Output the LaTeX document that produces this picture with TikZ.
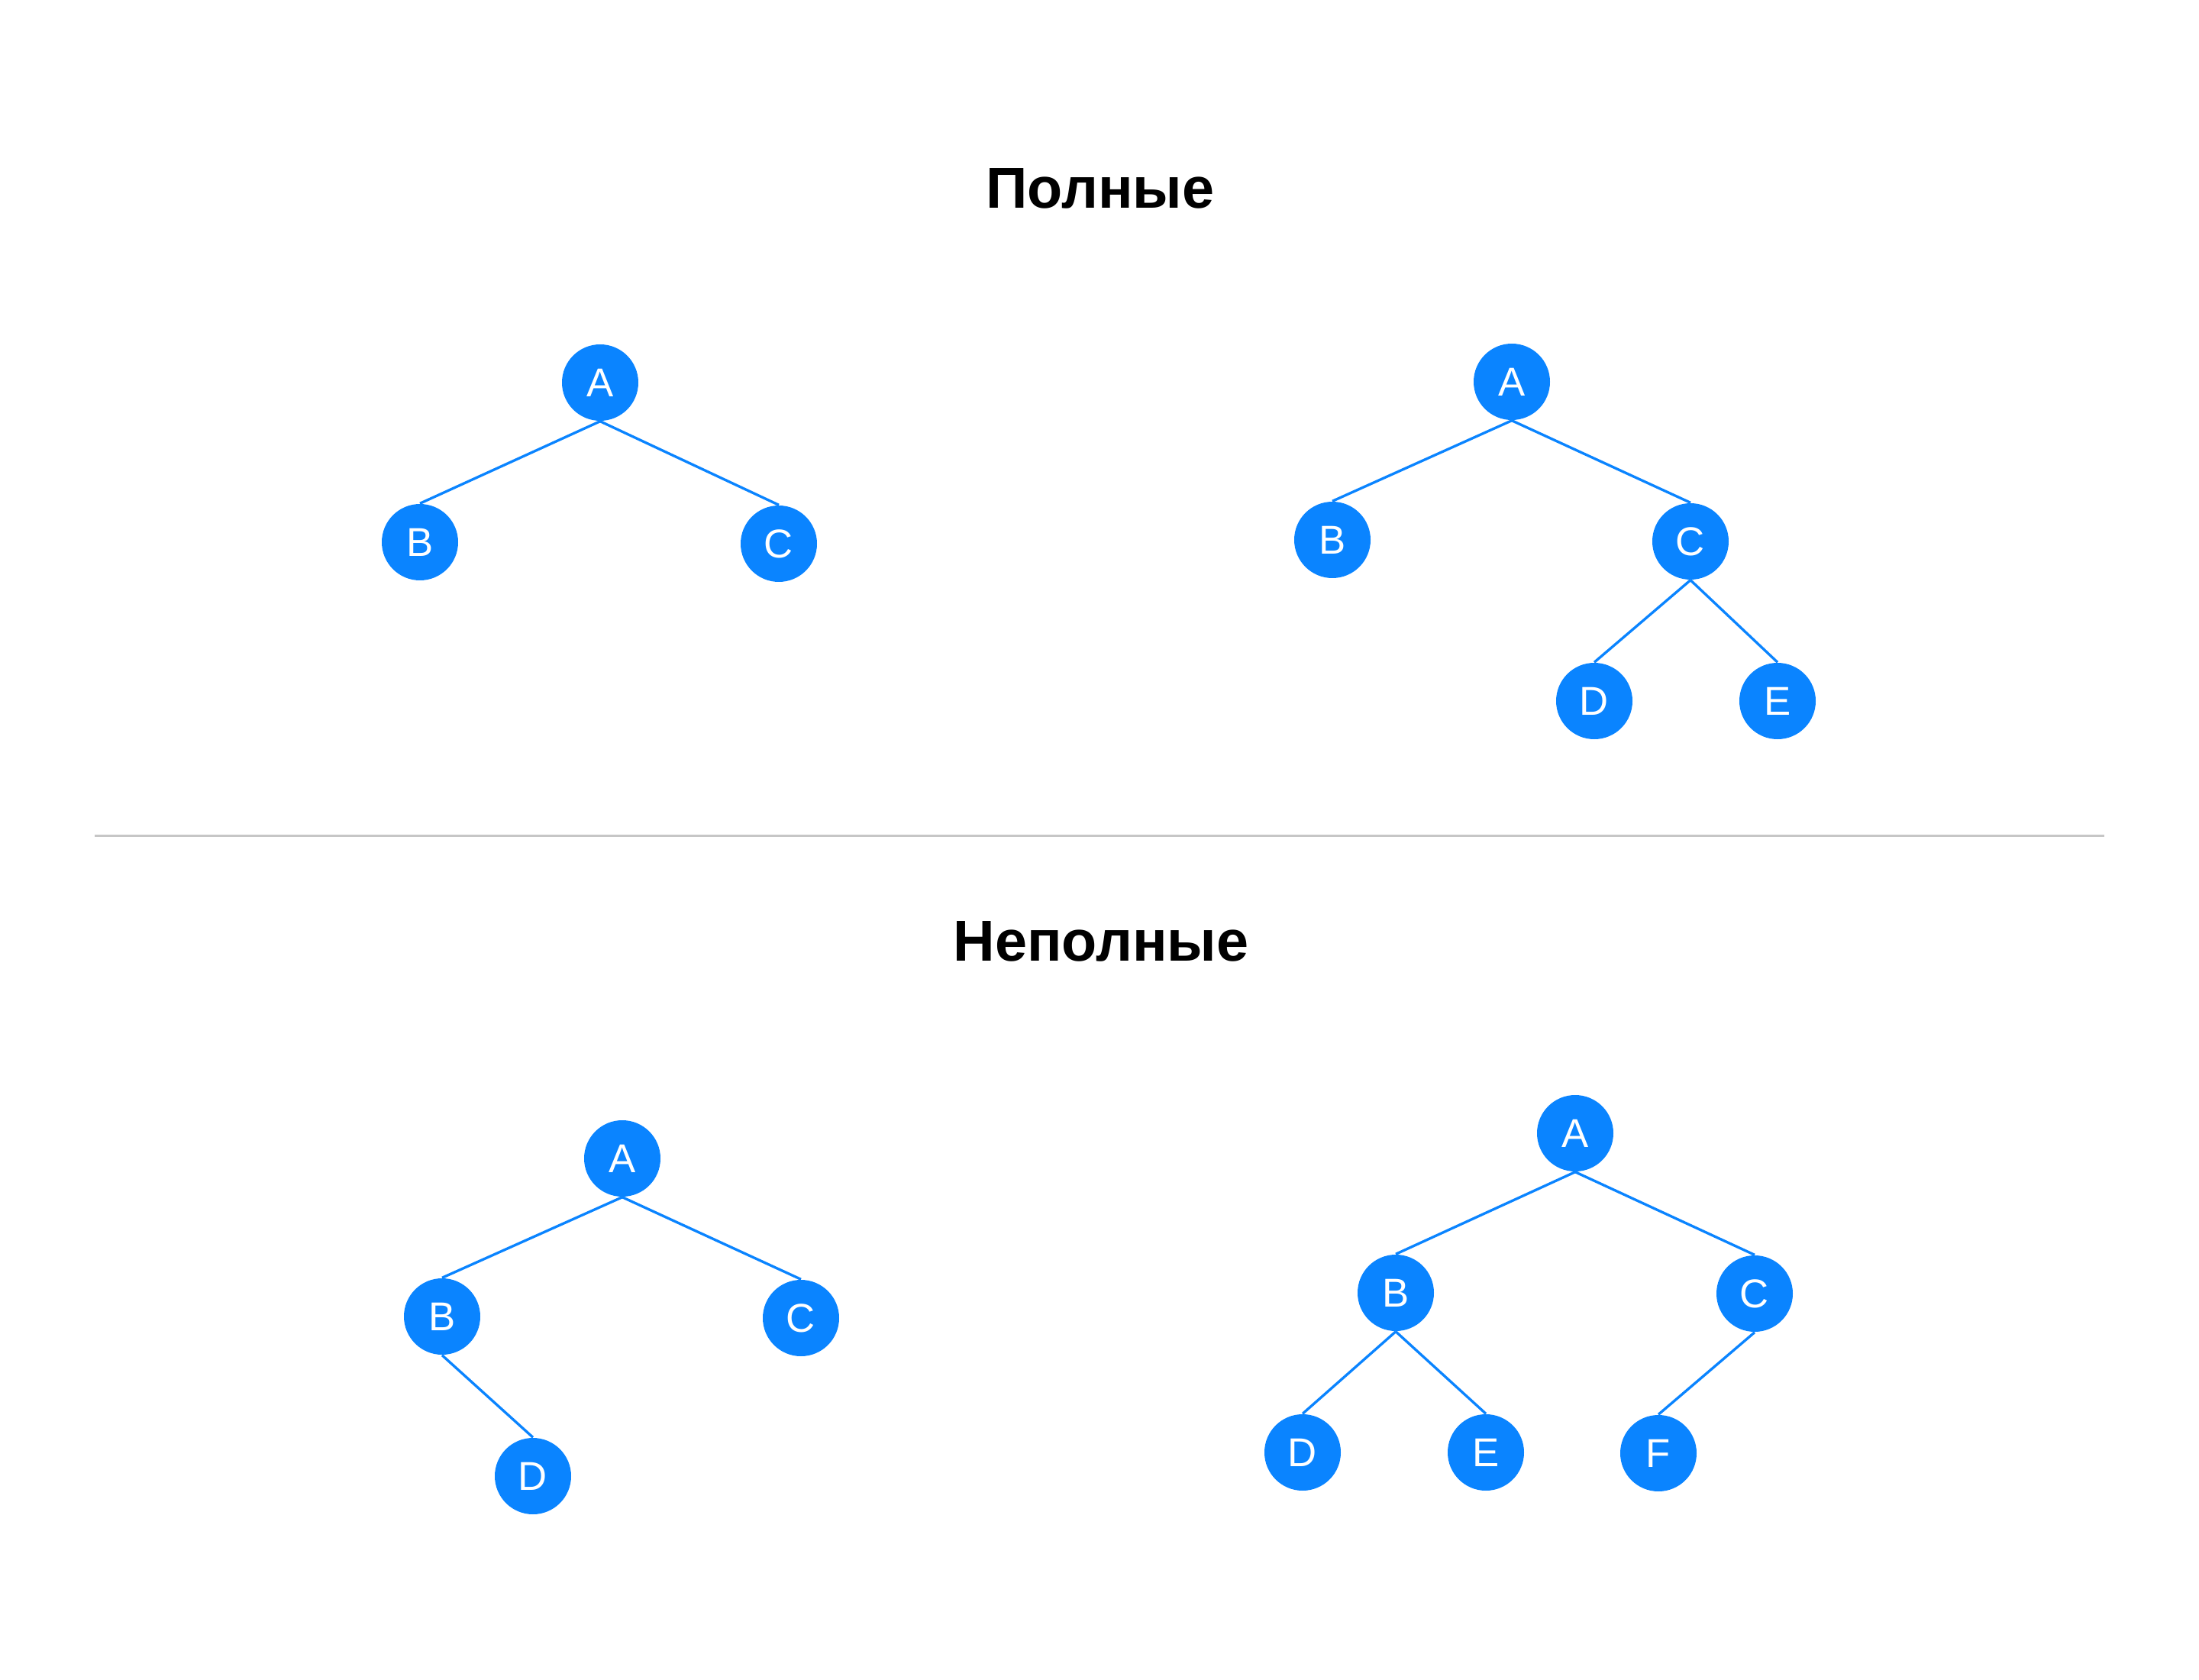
\documentclass[tikz,border=0pt]{standalone}
\usepackage{fontspec}
\setmainfont{Liberation Sans}
\usetikzlibrary{shapes,arrows}
\definecolor{treeblue}{HTML}{0A84FF}
\definecolor{rulegray}{HTML}{C6C6C6}
\tikzstyle{vertex} = [circle, fill=treeblue, text=white, minimum size=1cm,
    inner sep=0pt, font=\fontsize{15pt}{18pt}\selectfont]
\tikzstyle{heading} = [inner sep=0pt, font=\fontsize{21.5pt}{26pt}\selectfont\bfseries]
\tikzstyle{line} = [draw, treeblue, line width=0.95pt]
\tikzstyle{rule} = [draw, rulegray, line width=0.6pt]

\begin{document}
\begin{tikzpicture}[node distance = 2.09cm]
    \fill [white] (0,0) rectangle (28.8,-22);
    \useasboundingbox (0,0) rectangle (28.8,-22);
    % Place headings
    \node [heading] (full) at (14.41,-2.47) {Полные};
    \node [heading] (partial) at (14.42,-12.33) {Неполные};
    \coordinate (sepl) at (1.24,-10.945);
    \coordinate (sepr) at (27.56,-10.945);
    \path [rule] (sepl) -- (sepr);
    % Place nodes: full, left
    \node [vertex] (fa) at (7.86,-5.01) {A};
    \node [vertex, below of=fa, xshift=-2.36cm] (fb) {B};
    \node [vertex, below of=fa, xshift=2.34cm, yshift=-0.02cm] (fc) {C};
    % Place nodes: full, right
    \node [vertex] (ga) at (19.80,-5.00) {A};
    \node [vertex, below of=ga, xshift=-2.35cm, yshift=0.02cm] (gb) {B};
    \node [vertex, below of=ga, xshift=2.34cm] (gc) {C};
    \node [vertex, below of=gc, xshift=-1.26cm] (gd) {D};
    \node [vertex, below of=gc, xshift=1.14cm] (ge) {E};
    % Place nodes: partial, left
    \node [vertex] (pa) at (8.15,-15.17) {A};
    \node [vertex, below of=pa, xshift=-2.36cm, yshift=0.02cm] (pb) {B};
    \node [vertex, below of=pa, xshift=2.34cm] (pc) {C};
    \node [vertex, below of=pb, xshift=1.19cm] (pd) {D};
    % Place nodes: partial, right
    \node [vertex] (qa) at (20.63,-14.84) {A};
    \node [vertex, below of=qa, xshift=-2.35cm] (qb) {B};
    \node [vertex, below of=qa, xshift=2.35cm, yshift=-0.01cm] (qc) {C};
    \node [vertex, below of=qb, xshift=-1.22cm] (qd) {D};
    \node [vertex, below of=qb, xshift=1.18cm] (qe) {E};
    \node [vertex, below of=qc, xshift=-1.26cm] (qf) {F};
    % Draw edges
    \path [line] (fa.south) -- (fb.north);
    \path [line] (fa.south) -- (fc.north);
    \path [line] (ga.south) -- (gb.north);
    \path [line] (ga.south) -- (gc.north);
    \path [line] (gc.south) -- (gd.north);
    \path [line] (gc.south) -- (ge.north);
    \path [line] (pa.south) -- (pb.north);
    \path [line] (pa.south) -- (pc.north);
    \path [line] (pb.south) -- (pd.north);
    \path [line] (qa.south) -- (qb.north);
    \path [line] (qa.south) -- (qc.north);
    \path [line] (qb.south) -- (qd.north);
    \path [line] (qb.south) -- (qe.north);
    \path [line] (qc.south) -- (qf.north);
\end{tikzpicture}
\end{document}
